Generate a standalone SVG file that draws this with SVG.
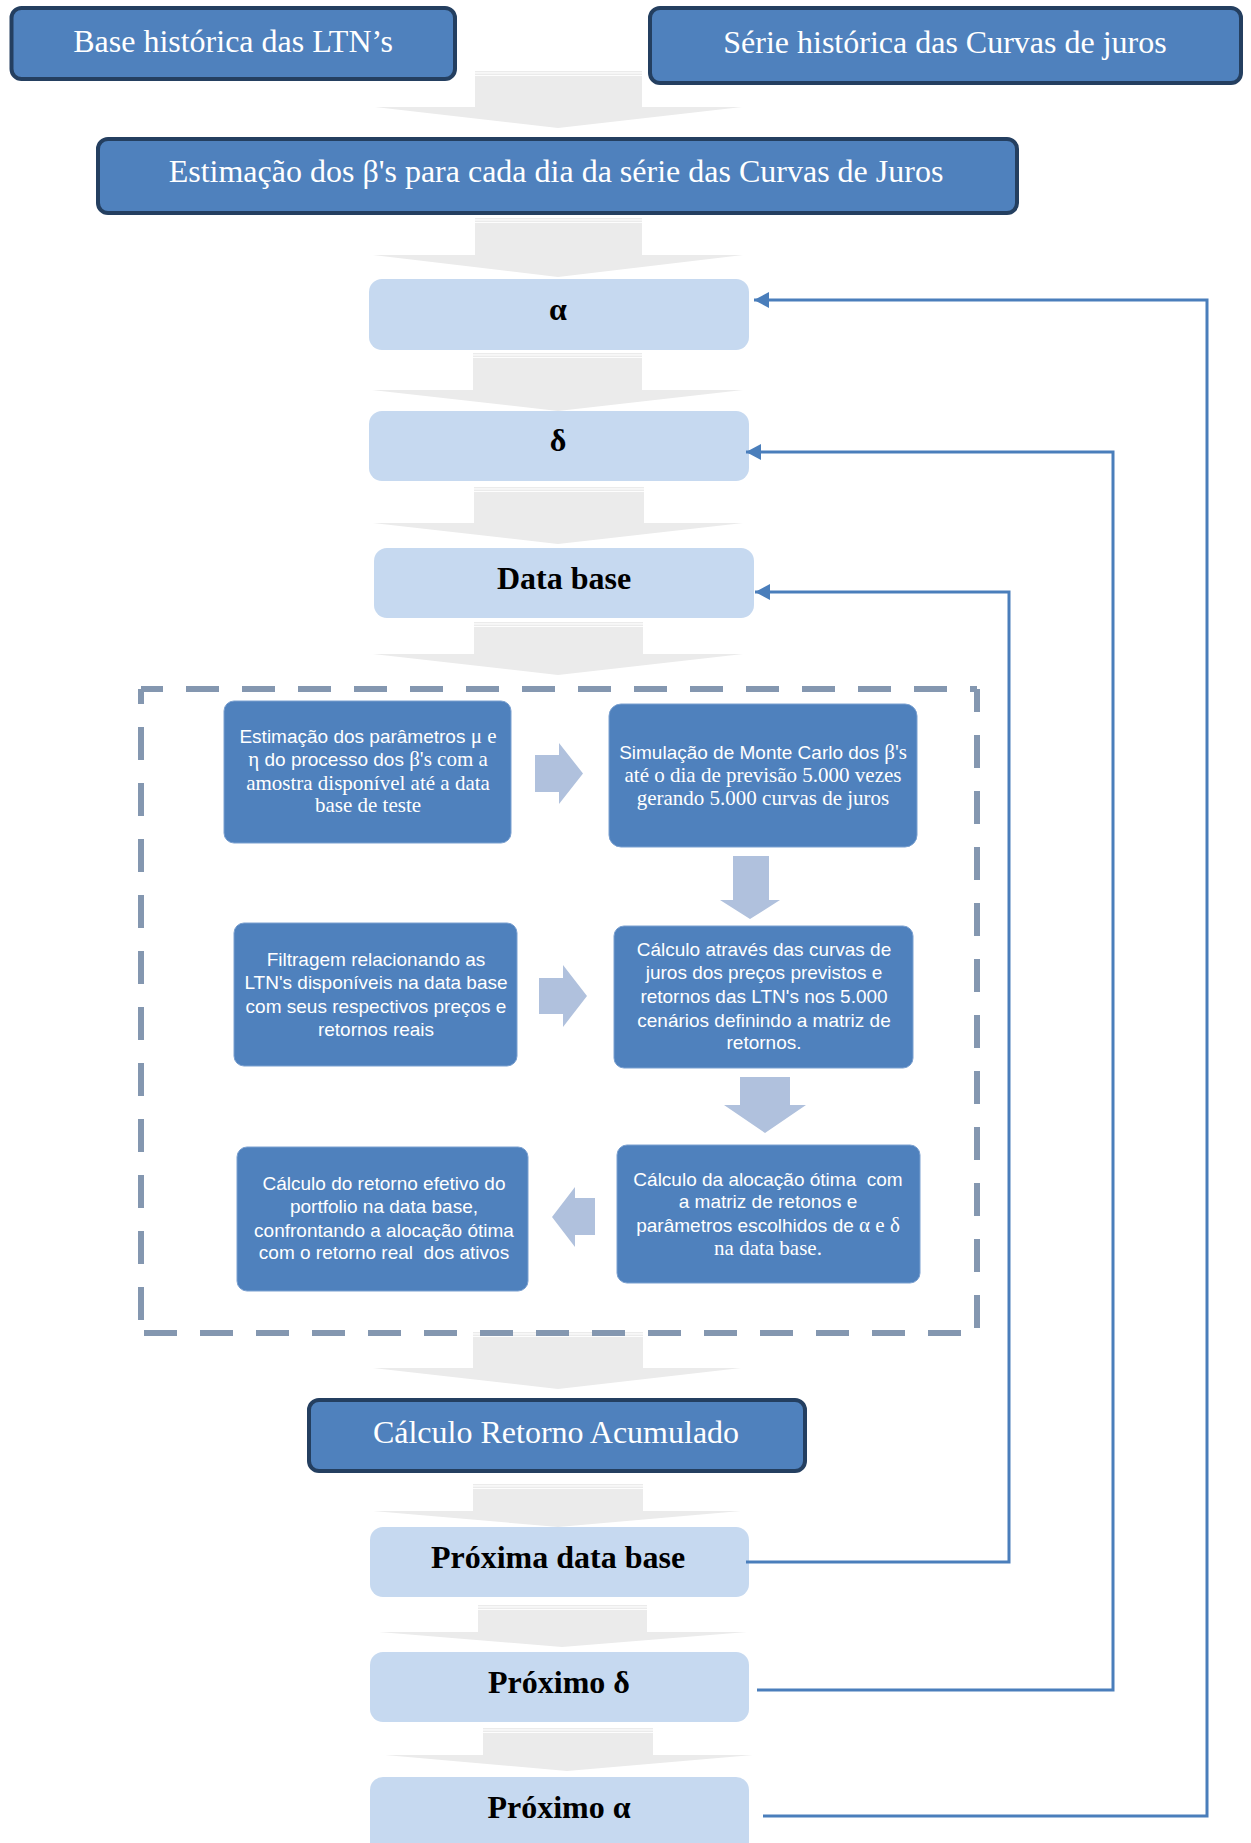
<svg xmlns="http://www.w3.org/2000/svg" width="1251" height="1843" viewBox="0 0 1251 1843">
<style>
.bg{fill:#ffffff}
.dk{fill:#4f81bd;stroke:#243f60;stroke-width:4}
.lt{fill:#c6d9f0}
.in{fill:#4f81bd;stroke:#7aa0d0;stroke-width:1}
.ga{fill:#ebebeb}
.sa{fill:#b0c1dd}
.dash{fill:none;stroke:#8497b0;stroke-width:6;stroke-dasharray:33 23}
.con{fill:none;stroke:#4a7ebb;stroke-width:3}
.tw{font-family:"Liberation Serif","Times New Roman",serif;font-size:32px;fill:#ffffff;text-anchor:middle}
.tb{font-family:"Liberation Serif","Times New Roman",serif;font-size:32px;font-weight:bold;fill:#000000;text-anchor:middle}
.ti{font-size:19px;fill:#ffffff;text-anchor:middle}
.s{font-family:"Liberation Sans",Arial,sans-serif;font-size:19px}
.r{font-family:"Liberation Serif","Times New Roman",serif;font-size:21px}
</style>
<defs>
<marker id="ah" markerUnits="userSpaceOnUse" markerWidth="16" markerHeight="16" viewBox="0 0 16 16" refX="15" refY="8" orient="auto">
<path d="M0,0 L15,8 L0,16 Z" fill="#4a7ebb"/>
</marker>
</defs>
<rect class="bg" x="0" y="0" width="1251" height="1843"/>

<g id="big-arrows">
<g id="arrow1"><rect class="ga" x="475" y="71" width="167" height="1.4"/><rect class="ga" x="475" y="73.5" width="167" height="1.6"/><path class="ga" d="M475,76 H642 V107 H742 L558,128 L375,107 H475 Z"/></g>
<g id="arrow2"><rect class="ga" x="475" y="218" width="167" height="1.4"/><rect class="ga" x="475" y="220.5" width="167" height="1.6"/><path class="ga" d="M475,223 H642 V255 H743 L558,277 L373,255 H475 Z"/></g>
<g id="arrow3"><rect class="ga" x="473" y="353" width="169" height="1.4"/><rect class="ga" x="473" y="355.5" width="169" height="1.6"/><path class="ga" d="M473,358 H642 V390 H743 L558,411 L372,390 H473 Z"/></g>
<g id="arrow4"><rect class="ga" x="474" y="487" width="170" height="1.4"/><rect class="ga" x="474" y="489.5" width="170" height="1.6"/><path class="ga" d="M474,492 H644 V523 H743 L558,544 L373,523 H474 Z"/></g>
<g id="arrow5"><rect class="ga" x="474" y="622" width="169" height="1.4"/><rect class="ga" x="474" y="624.5" width="169" height="1.6"/><path class="ga" d="M474,627 H643 V654 H743 L558,675 L373,654 H474 Z"/></g>
<g id="arrow6"><rect class="ga" x="473" y="1332" width="170" height="1.4"/><rect class="ga" x="473" y="1334.5" width="170" height="1.6"/><path class="ga" d="M473,1337 H643 V1368 H741 L558,1389 L373,1368 H473 Z"/></g>
<g id="arrow7"><rect class="ga" x="473" y="1484" width="170" height="1.4"/><rect class="ga" x="473" y="1486.5" width="170" height="1.6"/><path class="ga" d="M473,1489 H643 V1511 H741 L558,1527 L373,1511 H473 Z"/></g>
<g id="arrow8"><rect class="ga" x="478" y="1605" width="169" height="1.4"/><rect class="ga" x="478" y="1607.5" width="169" height="1.6"/><path class="ga" d="M478,1610 H647 V1632 H747 L562,1647 L379,1632 H478 Z"/></g>
<g id="arrow9"><rect class="ga" x="483" y="1728" width="170" height="1.4"/><rect class="ga" x="483" y="1730.5" width="170" height="1.6"/><path class="ga" d="M483,1733 H653 V1755 H753 L567,1771 L385,1755 H483 Z"/></g>
</g>

<g id="n-base-ltn"><rect class="dk" x="11.5" y="8" width="443.5" height="71" rx="10"/><text class="tw" x="233" y="52">Base histórica das LTN’s</text></g>
<g id="n-serie-curvas"><rect class="dk" x="650" y="8" width="591" height="75" rx="10"/><text class="tw" x="945" y="53">Série histórica das Curvas de juros</text></g>
<g id="n-estimacao-betas"><rect class="dk" x="98" y="139" width="919" height="74" rx="10"/><text class="tw" x="556" y="182">Estimação dos β's para cada dia da série das Curvas de Juros</text></g>

<g id="n-alpha"><rect class="lt" x="369" y="279" width="380" height="71" rx="13"/><text class="tb" x="558" y="320">α</text></g>
<g id="n-delta"><rect class="lt" x="369" y="411" width="380" height="70" rx="13"/><text class="tb" x="558" y="451">δ</text></g>
<g id="n-data-base"><rect class="lt" x="374" y="548" width="380" height="70" rx="13"/><text class="tb" x="564" y="589">Data base</text></g>

<g id="loop-box"><path class="dash" d="M141,689 H977" stroke-dashoffset="11"/><path class="dash" d="M141,689 V1333" stroke-dashoffset="18"/><path class="dash" d="M977,689 V1333" stroke-dashoffset="10"/><path class="dash" d="M141,1333 H977" stroke-dashoffset="53"/></g>

<g id="inner-arrows">
<path class="sa" d="M535,755 H559 V743 L583,773.5 L559,804 V792 H535 Z"/>
<path class="sa" d="M733,856 H769 V900 H780 L750,919 L720,900 H733 Z"/>
<path class="sa" d="M539,978 H563 V965 L587,996 L563,1027 V1014 H539 Z"/>
<path class="sa" d="M740,1077 H790 V1105 H806 L765,1133 L724,1105 H740 Z"/>
<path class="sa" d="M595,1198 H575 V1187 L552,1217 L575,1247 V1235 H595 Z"/>
</g>

<g id="n-estimacao-parametros"><rect class="in" x="224" y="701" width="287" height="142" rx="10"/>
<text class="ti" x="368" y="743"><tspan class="s">Estimação dos parâmetros </tspan><tspan class="r">μ e</tspan></text>
<text class="ti" x="368" y="766"><tspan class="r">η</tspan><tspan class="s"> do processo dos </tspan><tspan class="r">β's com a</tspan></text>
<text class="ti r" x="368" y="790">amostra disponível até a data</text>
<text class="ti r" x="368" y="812">base de teste</text></g>

<g id="n-simulacao"><rect class="in" x="609" y="704" width="308" height="143" rx="12"/>
<text class="ti" x="763" y="759"><tspan class="s">Simulação de Monte Carlo dos </tspan><tspan class="r">β's</tspan></text>
<text class="ti r" x="763" y="782">até o dia de previsão  5.000 vezes</text>
<text class="ti r" x="763" y="805">gerando 5.000 curvas de juros</text></g>

<g id="n-filtragem"><rect class="in" x="234" y="923" width="283" height="143" rx="10"/>
<text class="ti s" x="376" y="966">Filtragem relacionando as</text>
<text class="ti s" x="376" y="989">LTN's disponíveis na data base</text>
<text class="ti s" x="376" y="1013">com seus respectivos preços e</text>
<text class="ti s" x="376" y="1036">retornos reais</text></g>

<g id="n-calculo-curvas"><rect class="in" x="614" y="926" width="299" height="142" rx="10"/>
<text class="ti s" x="764" y="956">Cálculo através das curvas de</text>
<text class="ti s" x="764" y="979">juros dos preços previstos e</text>
<text class="ti s" x="764" y="1003">retornos das LTN's nos 5.000</text>
<text class="ti s" x="764" y="1027">cenários definindo a matriz de</text>
<text class="ti s" x="764" y="1049">retornos.</text></g>

<g id="n-alocacao"><rect class="in" x="617" y="1145" width="303" height="138" rx="10"/>
<text class="ti s" x="768" y="1186" xml:space="preserve">Cálculo da alocação ótima  com</text>
<text class="ti s" x="768" y="1208">a matriz de retonos e</text>
<text class="ti" x="768" y="1232"><tspan class="s">parâmetros escolhidos de </tspan><tspan class="r">α e δ</tspan></text>
<text class="ti r" x="768" y="1255">na data base.</text></g>

<g id="n-retorno-efetivo"><rect class="in" x="237" y="1147" width="291" height="144" rx="10"/>
<text class="ti s" x="384" y="1190">Cálculo do retorno efetivo do</text>
<text class="ti s" x="384" y="1213">portfolio na data base,</text>
<text class="ti s" x="384" y="1237">confrontando a alocação ótima</text>
<text class="ti s" x="384" y="1259" xml:space="preserve">com o retorno real  dos ativos</text></g>

<g id="n-retorno-acumulado"><rect class="dk" x="309" y="1400" width="496" height="71" rx="10"/><text class="tw" x="556" y="1443">Cálculo Retorno Acumulado</text></g>

<g id="n-proxima-data"><rect class="lt" x="370" y="1527" width="379" height="70" rx="13"/><text class="tb" x="558" y="1568">Próxima data base</text></g>
<g id="n-proximo-delta"><rect class="lt" x="370" y="1652" width="379" height="70" rx="13"/><text class="tb" x="559" y="1693">Próximo δ</text></g>
<g id="n-proximo-alpha"><rect class="lt" x="370" y="1777" width="379" height="80" rx="13"/><text class="tb" x="559" y="1818">Próximo α</text></g>

<g id="connectors">
<polyline class="con" points="746,1562 1009,1562 1009,592 755,592" marker-end="url(#ah)"/>
<polyline class="con" points="757,1690 1113,1690 1113,452 746,452" marker-end="url(#ah)"/>
<polyline class="con" points="763,1816 1207,1816 1207,300 754,300" marker-end="url(#ah)"/>
</g>
</svg>
